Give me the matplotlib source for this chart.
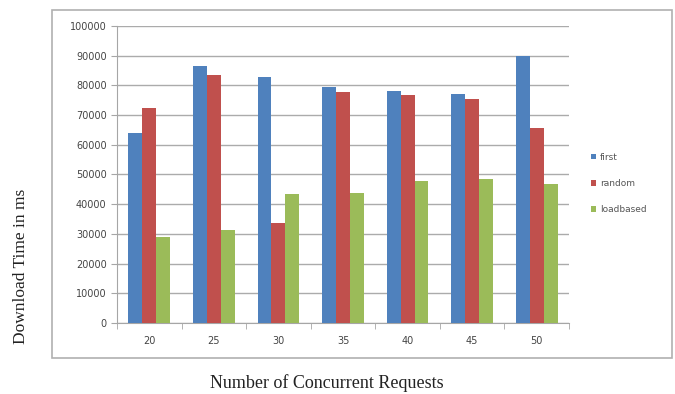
import matplotlib.pyplot as plt
import numpy as np
from matplotlib.patches import Rectangle

requests = ['20', '25', '30', '35', '40', '45', '50']
first = [64000, 86500, 82800, 79500, 78100, 77100, 90000]
random_ = [72500, 83500, 33600, 77800, 76800, 75400, 65700]
loadbased = [28800, 31300, 43400, 43700, 47800, 48500, 46800]

colors = ['#4F81BD', '#C0504D', '#9BBB59']

fig = plt.figure(figsize=(6.75, 3.94), dpi=100)
# chart area border
fig.patches.append(Rectangle((52 / 675, 1 - 358 / 394), 620 / 675, 348 / 394,
                             transform=fig.transFigure, fill=False,
                             edgecolor='#B0B0B0', linewidth=1.2))

ax = fig.add_axes([117 / 675, 1 - 323 / 394, 452 / 675, 297 / 394])
x = np.arange(len(requests))
w = 0.215
for i, (vals, name) in enumerate(zip([first, random_, loadbased],
                                     ['first', 'random', 'loadbased'])):
    ax.bar(x + (i - 1) * w, vals, w, color=colors[i], label=name, zorder=3)

ax.set_xlim(-0.5, len(requests) - 0.5)
ax.set_ylim(0, 100000)
ax.set_yticks(np.arange(0, 100001, 10000))
ax.yaxis.grid(True, color='#ABABAB', linewidth=1.0, zorder=0)
ax.set_xticks(x)
ax.set_xticklabels(requests)
ax.set_xticks(np.arange(-0.5, len(requests), 1), minor=True)
ax.tick_params(axis='x', which='major', length=0, pad=9, labelsize=7, labelcolor='#444444')
ax.tick_params(axis='x', which='minor', length=4, color='#A6A6A6', direction='out')
ax.tick_params(axis='y', length=4, color='#A6A6A6', labelsize=7, labelcolor='#444444')
for s in ['top', 'right']:
    ax.spines[s].set_visible(False)
for s in ['left', 'bottom']:
    ax.spines[s].set_color('#A6A6A6')

ax.legend(loc='center left', bbox_to_anchor=(1.03, 0.47), frameon=False,
          fontsize=6.5, handlelength=0.6, handleheight=0.6, handletextpad=0.4,
          labelspacing=1.9, labelcolor='#555555')

fig.text(21 / 675, 1 - 266 / 394, 'Download Time in ms', rotation=90, ha='center',
         va='center', family='Liberation Serif', fontsize=12.5, color='#222222')
fig.text(327 / 675, 1 - 383 / 394, 'Number of Concurrent Requests', ha='center',
         va='center', family='Liberation Serif', fontsize=13, color='#222222')

fig.savefig('out.png', dpi=100)
